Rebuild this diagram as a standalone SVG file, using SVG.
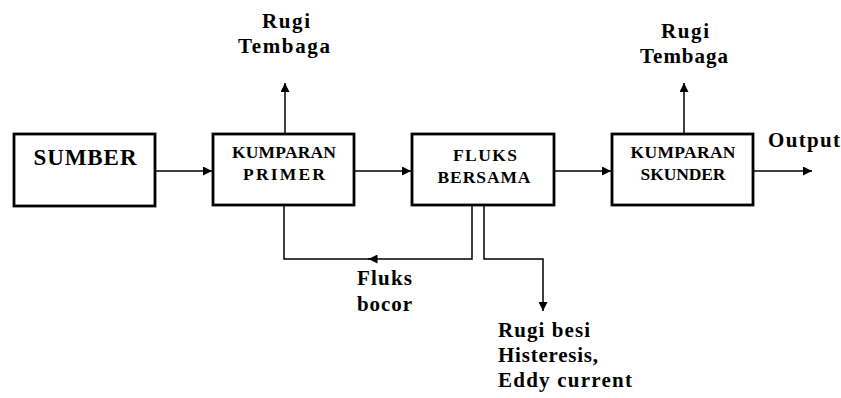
<svg xmlns="http://www.w3.org/2000/svg" width="841" height="398" viewBox="0 0 841 398">
<defs>
<style>
.box{fill:#fff;stroke:#000;stroke-width:2.8}
.ln{fill:none;stroke:#000;stroke-width:1.5}
.bl{font-size:17.5px;text-anchor:middle}
.lb{font-size:21px}
</style>
<marker id="ah" viewBox="0 0 10 10" refX="10" refY="5" markerWidth="10" markerHeight="9" markerUnits="userSpaceOnUse" orient="auto">
<path d="M0,0 L10,5 L0,10 Z" fill="#000"/>
</marker>
<marker id="ahm" viewBox="0 0 10 10" refX="5" refY="5" markerWidth="10" markerHeight="9" markerUnits="userSpaceOnUse" orient="auto">
<path d="M0,0 L10,5 L0,10 Z" fill="#000"/>
</marker>
</defs>
<rect width="841" height="398" fill="#fff"/>
<g id="connectors">
<line class="ln" x1="155" y1="171" x2="212" y2="171" marker-end="url(#ah)"/>
<line class="ln" x1="354" y1="171" x2="411" y2="171" marker-end="url(#ah)"/>
<line class="ln" x1="554" y1="171" x2="611" y2="171" marker-end="url(#ah)"/>
<line class="ln" x1="753" y1="171" x2="812" y2="171" marker-end="url(#ah)"/>
<line class="ln" x1="285" y1="134" x2="285" y2="83" marker-end="url(#ah)"/>
<line class="ln" x1="684" y1="134" x2="684" y2="83" marker-end="url(#ah)"/>
<path class="ln" d="M472,205 V259 H368"/>
<path class="ln" d="M373,259 H284 V205" marker-start="url(#ahm)"/>
<path class="ln" d="M484,205 V259 H543 V311" marker-end="url(#ah)"/>
</g>
<g font-family="Liberation Serif, Times New Roman, serif" font-weight="bold" fill="#000">
<g id="sumber">
<rect class="box" x="14" y="134" width="141" height="72"/>
<text x="85" y="165" font-size="23" text-anchor="middle" textLength="103" lengthAdjust="spacing">SUMBER</text>
</g>
<g id="kumparan-primer">
<rect class="box" x="213" y="134" width="141" height="71"/>
<text class="bl" x="284" y="158" textLength="104" lengthAdjust="spacing">KUMPARAN</text>
<text class="bl" x="284" y="180" textLength="82" lengthAdjust="spacing">PRIMER</text>
</g>
<g id="fluks-bersama">
<rect class="box" x="412" y="134" width="142" height="71"/>
<text class="bl" x="485" y="161" textLength="64" lengthAdjust="spacing">FLUKS</text>
<text class="bl" x="484" y="183" textLength="93" lengthAdjust="spacing">BERSAMA</text>
</g>
<g id="kumparan-skunder">
<rect class="box" x="612" y="134" width="141" height="71"/>
<text class="bl" x="683" y="158" textLength="105" lengthAdjust="spacing">KUMPARAN</text>
<text class="bl" x="683" y="180" textLength="85" lengthAdjust="spacing">SKUNDER</text>
</g>
<g id="rugi-tembaga-1">
<text class="lb" x="286" y="28" text-anchor="middle" textLength="48" lengthAdjust="spacing">Rugi</text>
<text class="lb" x="284" y="53" text-anchor="middle" textLength="92" lengthAdjust="spacing">Tembaga</text>
</g>
<g id="rugi-tembaga-2">
<text class="lb" x="685" y="38" text-anchor="middle" textLength="48" lengthAdjust="spacing">Rugi</text>
<text class="lb" x="684" y="63" text-anchor="middle" textLength="88" lengthAdjust="spacing">Tembaga</text>
</g>
<g id="output">
<text class="lb" x="768" y="147" textLength="72" lengthAdjust="spacing">Output</text>
</g>
<g id="fluks-bocor">
<text class="lb" x="357" y="285" textLength="55" lengthAdjust="spacing">Fluks</text>
<text class="lb" x="357" y="311" textLength="55" lengthAdjust="spacing">bocor</text>
</g>
<g id="rugi-besi">
<text class="lb" x="498" y="337" textLength="92" lengthAdjust="spacing">Rugi besi</text>
<text class="lb" x="498" y="362" textLength="100" lengthAdjust="spacing">Histeresis,</text>
<text class="lb" x="498" y="387" textLength="134" lengthAdjust="spacing">Eddy current</text>
</g>
</g>
</svg>
